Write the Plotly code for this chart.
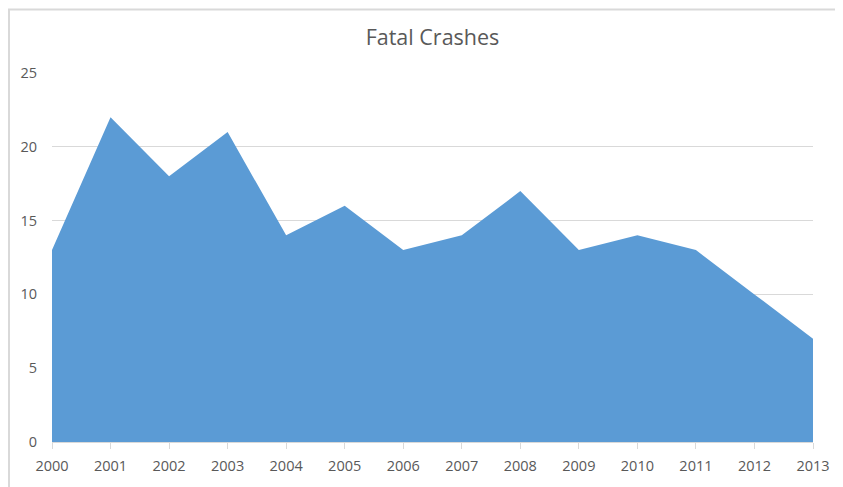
import plotly.graph_objects as go

years = [2000, 2001, 2002, 2003, 2004, 2005, 2006, 2007, 2008, 2009, 2010, 2011, 2012, 2013]
crashes = [13, 22, 18, 21, 14, 16, 13, 14, 17, 13, 14, 13, 10, 7]
y_ticks = [0, 5, 10, 15, 20, 25]

# page body has an 8px margin, so the figure is laid out 8px smaller and shifted
OFF = 8
W, H = 843 - OFF, 487 - OFF
L, R, T, B = 52 - OFF, 30, 73 - OFF, 42
pw = W - L - R
ph = H - T - B

fig = go.Figure()
fig.add_trace(go.Scatter(
    x=years, y=crashes, mode="lines", fill="tozeroy",
    line=dict(color="#5B9BD5", width=0), fillcolor="#5B9BD5",
    hoverinfo="x+y", showlegend=False,
))

fig.update_layout(
    width=W, height=H,
    margin=dict(l=L, r=R, t=T, b=B),
    paper_bgcolor="white", plot_bgcolor="white",
    font=dict(family="Open Sans, Lato, sans-serif", color="#595959", size=14),
    title=dict(text="Fatal Crashes", x=0.5, xref="paper", y=1 - (37 - OFF) / H, yanchor="middle",
               font=dict(size=21.5, color="#595959")),
    xaxis=dict(
        range=[years[0], years[-1]], tickvals=years, ticktext=[str(y) for y in years],
        showgrid=False, showline=True, linecolor="#D9D9D9", linewidth=1,
        ticks="outside", ticklen=6, tickcolor="#D9D9D9", zeroline=False,
        tickfont=dict(size=14.5, color="#595959"), ticklabelstandoff=5,
    ),
    yaxis=dict(
        range=[0, 25], tickvals=y_ticks, showgrid=True, gridcolor="#D9D9D9",
        gridwidth=1, zeroline=False, showline=False, ticks="",
        tickfont=dict(size=14.5, color="#595959"), ticklabelstandoff=14,
    ),
    shapes=[dict(
        type="rect", xref="paper", yref="paper",
        x0=(1 - L) / pw, x1=(W + 5 - L) / pw,
        y0=-(B + 5) / ph, y1=1 + (T - 1) / ph,
        line=dict(color="#D9D9D9", width=2), fillcolor="rgba(0,0,0,0)", layer="below",
    )],
)

fig.write_html("out.html")
